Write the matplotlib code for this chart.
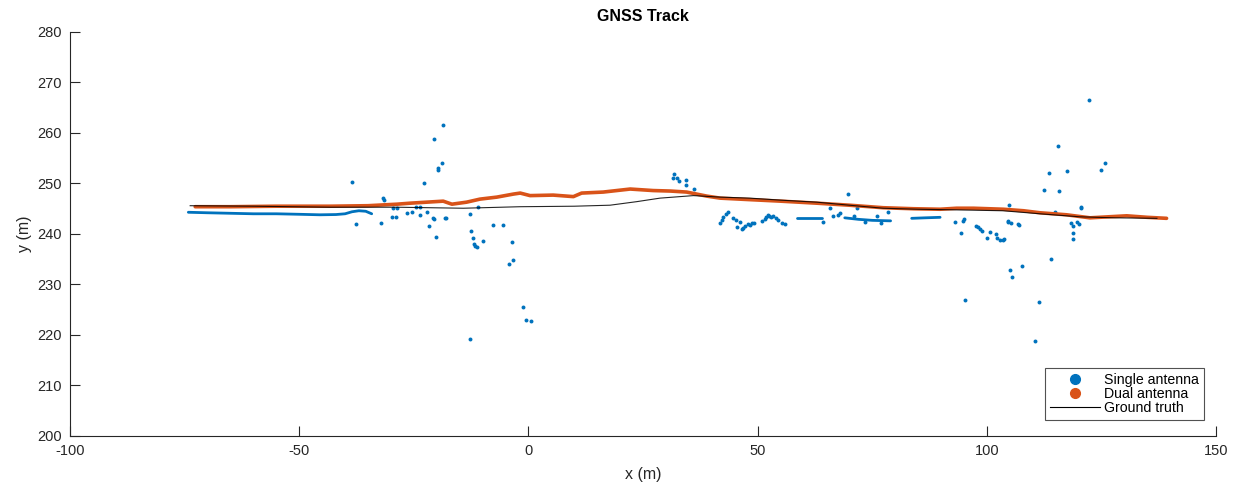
"""
GNSS track: single antenna vs dual antenna vs ground truth (MATLAB-style figure).
"""
import numpy as np
import matplotlib
matplotlib.use('Agg')
import matplotlib.pyplot as plt
from matplotlib.lines import Line2D

# ── data ──────────────────────────────────────────────────────────────────────
# ground truth polyline
truth_x = [-73.8, -60, -43.3, -28.7, -14.2, -1.8, 10.0, 17.8, 23.6, 28.7, 36.0,
           41.8, 48.3, 55.0, 62.9, 70.0, 77.4, 85.0, 92.0, 103.5, 111.6, 120.3, 128.0, 137.1]
truth_y = [245.6, 245.5, 245.3, 245.3, 245.1, 245.4, 245.5, 245.7, 246.4, 247.1, 247.6,
           247.3, 247.1, 246.7, 246.3, 245.7, 245.1, 244.9, 244.8, 244.6, 244.0, 243.4, 243.2, 243.1]

# dual antenna (dense trail)
dual_x = [-72.7, -65, -55, -43.3, -35, -28.7, -25.8, -18.6, -16.7, -13.5, -10.6, -6.9,
          -3.3, -1.8, 0.35, 5.4, 9.8, 11.6, 16.3, 22.2, 27.2, 31.0, 34.5, 38.9, 41.8,
          48.3, 55.0, 62.9, 70.0, 77.4, 84.0, 89.8, 93.4, 97.1, 103.6, 108.0, 111.6,
          117.4, 122.5, 126.5, 130.5, 135.0, 139.2]
dual_y = [245.4, 245.4, 245.5, 245.5, 245.6, 245.9, 246.1, 246.5, 245.9, 246.3, 246.9, 247.3,
          247.9, 248.1, 247.6, 247.7, 247.4, 248.1, 248.3, 248.9, 248.6, 248.5, 248.3, 247.5, 247.1,
          246.8, 246.5, 246.1, 245.7, 245.2, 245.0, 244.9, 245.1, 245.1, 244.9, 244.6, 244.2,
          243.8, 243.2, 243.4, 243.6, 243.3, 243.1]

# single antenna: dense stretches
single_seg_x = [
    [-74.2, -70, -65, -60, -55, -50, -45.5, -42, -40, -38.5, -37, -35.5, -34.2],
    [58.5, 61.0, 64.0],
    [69.0, 72.0, 75.0, 79.0],
    [83.6, 86.5, 89.8],
]
single_seg_y = [
    [244.3, 244.2, 244.1, 244.0, 244.0, 243.9, 243.8, 243.85, 244.0, 244.4, 244.6, 244.5, 244.0],
    [243.2, 243.2, 243.2],
    [243.2, 242.9, 242.7, 242.6],
    [243.1, 243.2, 243.3],
]

# single antenna: individual fixes
single_x = [-38.4, -18.6, -20.6, -18.8, -19.8, -19.7, -22.7, -31.8, -31.6,
            -37.6, -32.2, -29.8, -28.9, -29.6, -28.6, -26.6, -25.3, -24.5, -23.6, -23.6,
            -22.1, -21.7, -20.9, -20.6, -20.2, -18.3, -18.0, -12.7, -10.9, -12.5, -12.2,
            -11.9, -11.6, -11.3, -9.9, -7.7, -5.6, -3.6, -4.3, -3.3, -1.2, -0.6, 0.6, -12.7,
            31.8, 31.5, 32.5, 32.9, 34.3, 34.4, 36.1,
            41.8, 42.2, 42.5, 43.0, 43.6, 44.7, 45.2, 45.6, 46.2, 46.6, 46.9, 47.3, 47.8,
            48.3, 48.7, 49.1,
            51.0, 51.5, 51.8, 52.2, 52.5, 53.0, 53.3, 54.0, 54.4, 55.2, 56.0,
            64.3, 65.8, 66.4, 67.5, 68.0, 69.8, 71.6, 71.0, 73.5, 76.0, 77.0, 78.5,
            93.1, 94.9, 94.3, 95.0, 97.6, 98.0, 98.5, 99.0, 100.6, 100.0, 101.9, 102.3, 102.9,
            103.5, 103.8, 104.7, 105.3, 106.9, 107.0, 105.1, 105.4, 107.7, 114.0, 95.2,
            111.3, 110.6, 118.4, 118.7, 118.7, 118.7, 119.6, 120.2, 114.9, 122.2, 115.5,
            113.6, 117.4, 112.5, 115.8, 125.7, 124.9, 104.8, 120.6, 120.5, 104.6]
single_y = [250.2, 261.6, 258.9, 254.1, 253.1, 252.7, 250.0, 247.1, 246.7,
            242.0, 242.2, 243.4, 243.4, 245.1, 245.1, 244.1, 244.3, 245.4, 245.4, 243.8,
            244.4, 241.6, 243.2, 243.0, 239.4, 243.2, 243.2, 244.0, 245.4, 240.6, 239.3,
            238.0, 237.7, 237.5, 238.7, 241.8, 241.7, 238.5, 234.1, 234.9, 225.5, 222.9, 222.8, 219.2,
            251.9, 251.0, 251.0, 250.4, 250.7, 249.7, 248.9,
            242.1, 242.8, 243.4, 243.9, 244.4, 243.1, 242.8, 241.3, 242.4, 240.9, 241.1, 241.5, 241.9,
            241.8, 242.1, 242.1,
            242.6, 243.0, 243.3, 243.7, 243.6, 243.3, 243.5, 243.2, 242.8, 242.2, 242.0,
            242.3, 245.1, 243.6, 243.8, 244.2, 247.9, 245.1, 243.6, 242.4, 243.5, 242.2, 244.4,
            242.3, 242.6, 240.1, 242.9, 241.6, 241.3, 240.9, 240.5, 240.3, 239.3, 239.9, 239.3, 238.9,
            238.9, 239.1, 242.6, 242.1, 242.0, 241.7, 232.9, 231.5, 233.7, 235.1, 226.9,
            226.5, 218.9, 242.1, 241.6, 240.1, 239.1, 242.4, 242.0, 244.4, 266.5, 257.4,
            252.1, 252.5, 248.8, 248.5, 254.1, 252.6, 245.7, 245.4, 245.1, 242.4]

# ── style ─────────────────────────────────────────────────────────────────────
BLUE   = '#0072BD'
ORANGE = '#D95319'
AXCOL  = '#262626'

plt.rcParams['font.family'] = ['Liberation Sans', 'DejaVu Sans']
plt.rcParams['axes.unicode_minus'] = False

fig = plt.figure(figsize=(12.4, 4.95), dpi=100, facecolor='white')
ax = fig.add_axes([0.0565, 0.1192, 0.9242, 0.8162])

for sx, sy in zip(single_seg_x, single_seg_y):
    ax.plot(sx, sy, color=BLUE, lw=2.0, solid_capstyle='round', zorder=2)
ax.scatter(single_x, single_y, s=8, color=BLUE, linewidths=0, zorder=2)

ax.plot(dual_x, dual_y, color=ORANGE, lw=2.6, solid_capstyle='round', zorder=3)
ax.plot(truth_x, truth_y, color='black', lw=0.8, alpha=0.85, zorder=4)

ax.set_xlim(-100, 150)
ax.set_ylim(200, 280)
ax.set_xticks(np.arange(-100, 151, 50))
ax.set_yticks(np.arange(200, 281, 10))

for side in ['top', 'right']:
    ax.spines[side].set_visible(False)
for side in ['left', 'bottom']:
    ax.spines[side].set_color(AXCOL)
    ax.spines[side].set_linewidth(0.8)
ax.tick_params(direction='in', length=7, width=0.8, colors=AXCOL,
               labelsize=10.5, labelcolor=AXCOL, pad=6)

ax.set_xlabel('x (m)', fontsize=11.5, color=AXCOL, labelpad=6)
ax.set_ylabel('y (m)', fontsize=11.5, color=AXCOL, labelpad=4)
ax.set_title('GNSS Track', fontsize=11.5, fontweight='bold', color='black', pad=8)

handles = [
    Line2D([], [], marker='o', ls='none', color=BLUE, markersize=7),
    Line2D([], [], marker='o', ls='none', color=ORANGE, markersize=7),
    Line2D([], [], color='black', lw=0.8),
]
leg = ax.legend(handles, ['Single antenna', 'Dual antenna', 'Ground truth'],
                loc='lower right', bbox_to_anchor=(0.9895, 0.0396), borderaxespad=0,
                fontsize=10.2, frameon=True, fancybox=False, handlelength=3.5,
                handletextpad=0.3, labelspacing=0.0, borderpad=0.35)
leg.get_frame().set_edgecolor(AXCOL)
leg.get_frame().set_linewidth(0.8)

plt.savefig('out.png', dpi=100, facecolor='white')
